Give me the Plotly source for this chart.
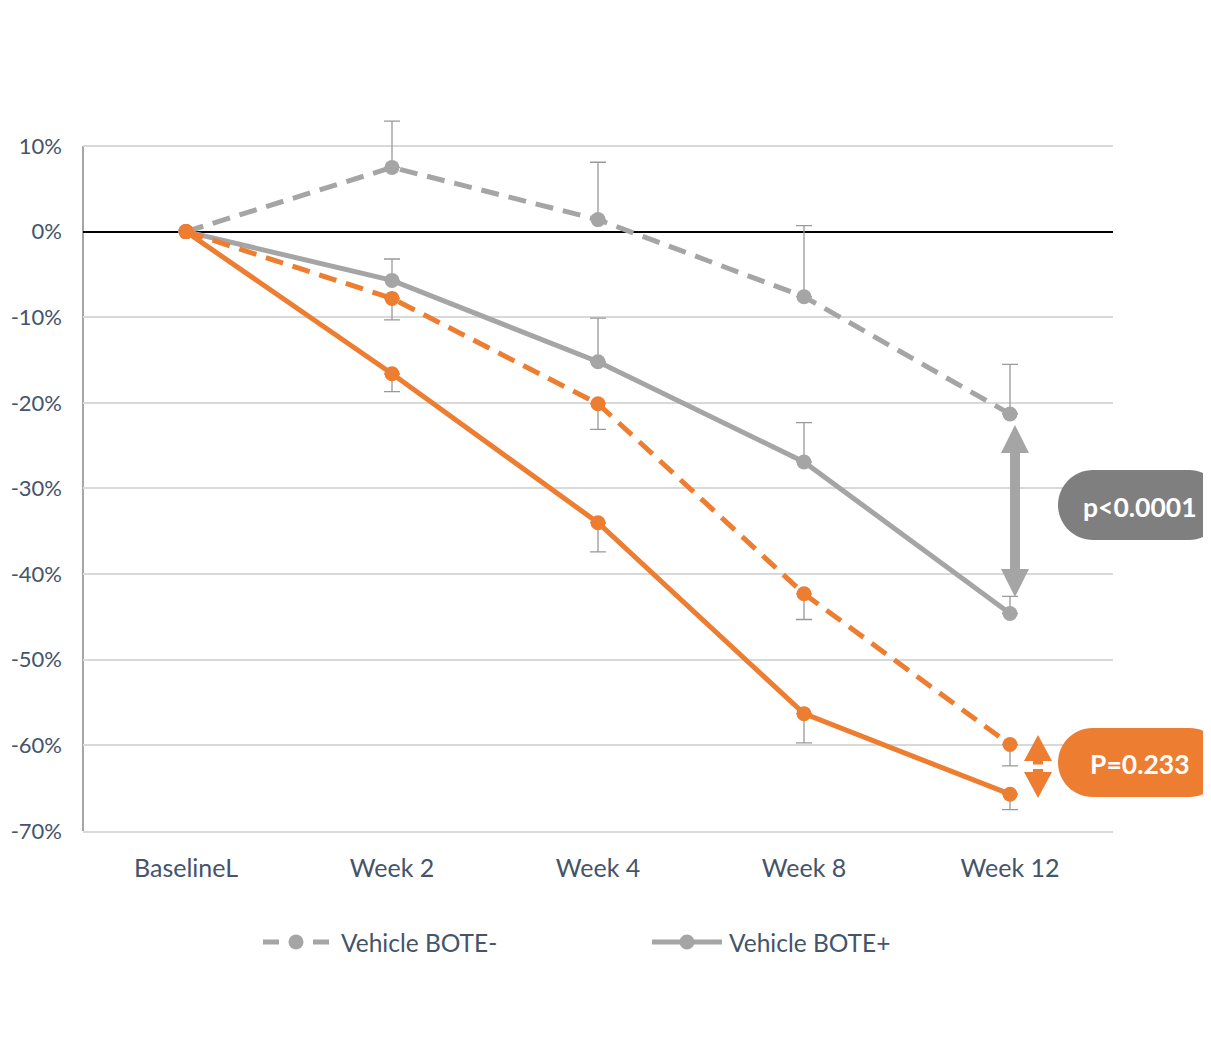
import plotly.graph_objects as go

# ---------------- data ----------------
categories = ["BaselineL", "Week 2", "Week 4", "Week 8", "Week 12"]

bote_minus_vehicle = [0.0, 7.5, 1.4, -7.6, -21.3]
bote_minus_vehicle_err = [0.0, 5.4, 6.7, 8.3, 5.8]

bote_plus_vehicle = [0.0, -5.7, -15.2, -26.9, -44.6]
bote_plus_vehicle_err = [0.0, 2.5, 5.1, 4.6, 2.0]

bote_minus_treated = [0.0, -7.8, -20.1, -42.3, -59.9]
bote_minus_treated_err = [0.0, 2.5, 3.0, 3.0, 2.5]

bote_plus_treated = [0.0, -16.6, -34.0, -56.3, -65.7]
bote_plus_treated_err = [0.0, 2.1, 3.4, 3.4, 1.8]

y_tickvals = [10, 0, -10, -20, -30, -40, -50, -60, -70]
y_ticktext = ["10%", "0%", "-10%", "-20%", "-30%", "-40%", "-50%", "-60%", "-70%"]

legend_names = ["Vehicle BOTE-", "Vehicle BOTE+"]
p_labels = ["p<0.0001", "P=0.233"]

# ---------------- styles ----------------
GREY = "#A5A5A5"
ORANGE = "#ED7D31"
ERR = "#999999"
TXT = "#44546A"
FONT = "Lato"
zeros = [0, 0, 0, 0, 0]

# target-page pixel geometry (page body has an 8px margin)
OFF = 8
W, H = 1211, 1064
Y_MIN, Y_AX_TOP, Y_MAX = -70, 10, 13.5      # axis drawn to 10%, headroom for error bars
L, R, B = 83, 1113, 831
PX_PER = (831 - 146) / (Y_AX_TOP - Y_MIN)
T = B - (Y_MAX - Y_MIN) * PX_PER


def px(x):
    return (x - L) / (R - L)


def py(y):
    return (B - y) / (B - T)


def path(points, close=True):
    s = ""
    for i, p in enumerate(points):
        if p[0] == "C":
            s += " C %.5f,%.5f %.5f,%.5f %.5f,%.5f" % (
                px(p[1]), py(p[2]), px(p[3]), py(p[4]), px(p[5]), py(p[6]))
        else:
            s += (" M" if i == 0 else " L") + " %.5f,%.5f" % (px(p[0]), py(p[1]))
    return s + (" Z" if close else "")


def pill(x0, x1, y0, y1):
    r = (y1 - y0) / 2
    k = 0.5523 * r
    ym = (y0 + y1) / 2
    pts = [
        (x0 + r, y0), (x1 - r, y0),
        ("C", x1 - r + k, y0, x1, ym - k, x1, ym),
        ("C", x1, ym + k, x1 - r + k, y1, x1 - r, y1),
        (x0 + r, y1),
        ("C", x0 + r - k, y1, x0, ym + k, x0, ym),
        ("C", x0, ym - k, x0 + r - k, y0, x0 + r, y0),
    ]
    return path(pts)


def circle(cx, cy, r, color):
    return dict(type="circle", xref="paper", yref="paper", line=dict(width=0),
                fillcolor=color, x0=px(cx - r), x1=px(cx + r), y0=py(cy + r), y1=py(cy - r))


def seg(x0, x1, y, color, width=5):
    return dict(type="line", xref="paper", yref="paper", line=dict(color=color, width=width),
                x0=px(x0), x1=px(x1), y0=py(y), y1=py(y))


fig = go.Figure()

MS = 15
fig.add_trace(go.Scatter(
    x=categories, y=bote_minus_vehicle, name=legend_names[0], mode="lines+markers",
    line=dict(color=GREY, width=5, dash="18px,10px"),
    marker=dict(color=GREY, size=MS),
    error_y=dict(type="data", symmetric=False, array=bote_minus_vehicle_err,
                 arrayminus=zeros, color=ERR, thickness=1.3, width=8),
))
fig.add_trace(go.Scatter(
    x=categories, y=bote_plus_vehicle, name=legend_names[1], mode="lines+markers",
    line=dict(color=GREY, width=5),
    marker=dict(color=GREY, size=MS),
    error_y=dict(type="data", symmetric=False, array=bote_plus_vehicle_err,
                 arrayminus=zeros, color=ERR, thickness=1.3, width=8),
))
fig.add_trace(go.Scatter(
    x=categories, y=bote_minus_treated, mode="lines+markers",
    line=dict(color=ORANGE, width=5, dash="18px,10px"),
    marker=dict(color=ORANGE, size=MS),
    error_y=dict(type="data", symmetric=False, array=zeros,
                 arrayminus=bote_minus_treated_err, color=ERR, thickness=1.3, width=8),
))
fig.add_trace(go.Scatter(
    x=categories, y=bote_plus_treated, mode="lines+markers",
    line=dict(color=ORANGE, width=5),
    marker=dict(color=ORANGE, size=MS),
    error_y=dict(type="data", symmetric=False, array=zeros,
                 arrayminus=bote_plus_treated_err, color=ERR, thickness=1.3, width=8),
))

shapes = []
# left axis line (only up to the 10% tick)
shapes.append(dict(type="line", xref="paper", yref="y", x0=0, x1=0, y0=Y_MIN, y1=Y_AX_TOP,
                   line=dict(color="#A6A6A6", width=2), layer="below"))
# grey double arrow
cx = 1015
shapes.append(dict(type="path", xref="paper", yref="paper", line=dict(width=0),
                   fillcolor=GREY, path=path([
                       (cx, 425), (cx + 14, 453), (cx + 5, 453), (cx + 5, 569),
                       (cx + 14, 569), (cx, 597), (cx - 14, 569), (cx - 5, 569),
                       (cx - 5, 453), (cx - 14, 453)])))
# orange double arrow
cx = 1038
shapes.append(dict(type="path", xref="paper", yref="paper", line=dict(width=0),
                   fillcolor=ORANGE, path=path([
                       (cx, 735), (cx + 14, 761), (cx + 5, 761), (cx + 5, 772),
                       (cx + 14, 772), (cx, 798), (cx - 14, 772), (cx - 5, 772),
                       (cx - 5, 761), (cx - 14, 761)])))
shapes.append(dict(type="rect", xref="paper", yref="paper", line=dict(width=0),
                   fillcolor="white", x0=px(1025), x1=px(1053), y0=py(769), y1=py(764.5)))
# badges
shapes.append(dict(type="path", xref="paper", yref="paper", line=dict(width=0),
                   fillcolor="#7F7F7F", path=pill(1058, 1224, 470, 540)))
shapes.append(dict(type="path", xref="paper", yref="paper", line=dict(width=0),
                   fillcolor=ORANGE, path=pill(1058, 1224, 728, 797)))

# legend (drawn manually to get the long symbols)
LY = 942
shapes += [seg(263, 279, LY, GREY), seg(313, 329, LY, GREY), circle(296, LY, 7.5, GREY)]
shapes += [seg(652, 722, LY, GREY), circle(687, LY, 7.5, GREY)]

annotations = [
    dict(text="<b>%s</b>" % p_labels[0], xref="paper", yref="paper", x=px(1140), y=py(507),
         showarrow=False, font=dict(family=FONT, size=26.5, color="white"),
         xanchor="center", yanchor="middle"),
    dict(text="<b>%s</b>" % p_labels[1], xref="paper", yref="paper", x=px(1140), y=py(764),
         showarrow=False, font=dict(family=FONT, size=26.5, color="white"),
         xanchor="center", yanchor="middle"),
    dict(text=legend_names[0], xref="paper", yref="paper", x=px(339), y=py(LY),
         showarrow=False, font=dict(family=FONT, size=24.5, color=TXT),
         xanchor="left", yanchor="middle"),
    dict(text=legend_names[1], xref="paper", yref="paper", x=px(727), y=py(LY),
         showarrow=False, font=dict(family=FONT, size=24.5, color=TXT),
         xanchor="left", yanchor="middle"),
]

fig.update_layout(
    width=W - OFF, height=H - OFF,
    margin=dict(l=L - OFF, r=W - R, t=T - OFF, b=H - B, autoexpand=False),
    paper_bgcolor="white", plot_bgcolor="white",
    font=dict(family=FONT, size=24, color=TXT),
    shapes=shapes, annotations=annotations,
    showlegend=False,
    xaxis=dict(type="category", range=[-0.5, 4.5], autorange=False,
               showgrid=False, showline=True, linecolor="#D9D9D9",
               linewidth=1.5, ticks="", ticklabelstandoff=14, automargin=False,
               tickfont=dict(family=FONT, size=25, color=TXT)),
    yaxis=dict(range=[Y_MIN, Y_MAX], autorange=False, tickvals=y_tickvals, ticktext=y_ticktext,
               showgrid=True, gridcolor="#D9D9D9", gridwidth=1.5,
               zeroline=True, zerolinecolor="black", zerolinewidth=1.5,
               showline=False, ticks="",
               ticklabelstandoff=20, automargin=False,
               tickfont=dict(family=FONT, size=22, color=TXT)),
)

fig.write_html("out.html")
